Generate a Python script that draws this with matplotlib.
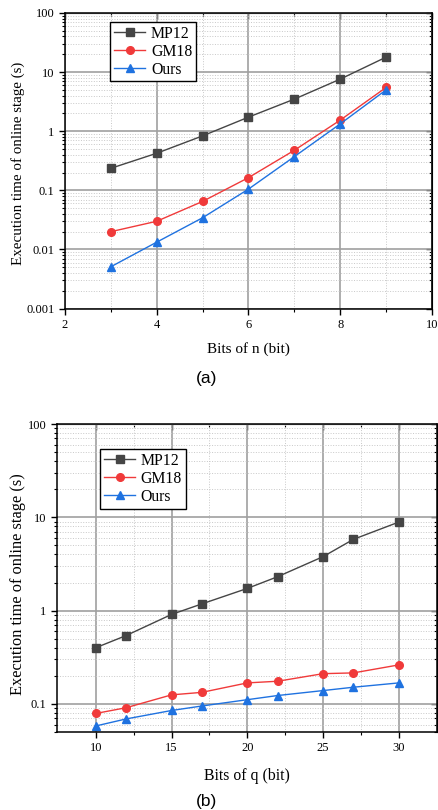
import matplotlib
matplotlib.use("Agg")
import matplotlib.pyplot as plt
from matplotlib.ticker import LogLocator, FixedLocator, NullFormatter, FuncFormatter

plt.rcParams["font.family"] = ["Liberation Serif", "DejaVu Serif"]

# ---- data: panel (a) ----
bits_n = [3, 4, 5, 6, 7, 8, 9]
mp12_a = [0.236, 0.424, 0.834, 1.73, 3.49, 7.6, 17.9]
gm18_a = [0.020, 0.030, 0.065, 0.164, 0.476, 1.54, 5.5]
ours_a = [0.0051, 0.0133, 0.0344, 0.105, 0.372, 1.33, 5.0]

# ---- data: panel (b) ----
bits_q = [10, 12, 15, 17, 20, 22, 25, 27, 30]
mp12_b = [0.40, 0.54, 0.91, 1.18, 1.73, 2.31, 3.79, 5.81, 8.9]
gm18_b = [0.079, 0.091, 0.125, 0.133, 0.168, 0.175, 0.211, 0.215, 0.262]
ours_b = [0.058, 0.069, 0.085, 0.095, 0.111, 0.123, 0.139, 0.151, 0.168]

labels = ["MP12", "GM18", "Ours"]
colors = ["#454545", "#f03a3a", "#1f72e0"]
markers = ["s", "o", "^"]


def fmt_log(v, pos):
    return f"{v:g}"


def style_axes(ax, xmajor, xminor, ylim):
    ax.set_yscale("log")
    ax.set_ylim(*ylim)
    ax.xaxis.set_major_locator(FixedLocator(xmajor))
    ax.xaxis.set_minor_locator(FixedLocator(xminor))
    ax.yaxis.set_major_locator(LogLocator(base=10))
    ax.yaxis.set_minor_locator(LogLocator(base=10, subs=range(2, 10)))
    ax.yaxis.set_major_formatter(FuncFormatter(fmt_log))
    ax.yaxis.set_minor_formatter(NullFormatter())
    ax.grid(which="major", color="#a0a0a0", linewidth=1.2, linestyle="-")
    ax.grid(which="minor", color="#c8c8c8", linewidth=0.7, linestyle=":")
    ax.set_axisbelow(True)
    for s in ax.spines.values():
        s.set_linewidth(1.1)
        s.set_color("black")
    ax.tick_params(which="major", direction="out", length=4, width=1, labelsize=9)
    ax.tick_params(which="minor", direction="out", length=2, width=0.8)
    # mirrored ticks pointing inward on top/right
    top = ax.secondary_xaxis("top")
    top.xaxis.set_major_locator(FixedLocator(xmajor))
    top.xaxis.set_minor_locator(FixedLocator(xminor))
    top.tick_params(which="major", direction="in", length=4, width=1, labeltop=False)
    top.tick_params(which="minor", direction="in", length=2, width=0.8)
    right = ax.secondary_yaxis("right")
    right.yaxis.set_major_locator(LogLocator(base=10))
    right.yaxis.set_minor_locator(LogLocator(base=10, subs=range(2, 10)))
    right.tick_params(which="major", direction="in", length=4, width=1, labelright=False)
    right.tick_params(which="minor", direction="in", length=2, width=0.8, labelright=False)
    right.yaxis.set_minor_formatter(NullFormatter())


def add_legend(ax, anchor):
    leg = ax.legend(loc="upper left", bbox_to_anchor=anchor, fontsize=11.3,
                    frameon=True, fancybox=False, edgecolor="black", framealpha=1,
                    handlelength=2.0, borderpad=0.25, labelspacing=0.12,
                    handletextpad=0.35, borderaxespad=0)
    leg.get_frame().set_linewidth(1)
    return leg


fig = plt.figure(figsize=(4.39, 8.10), dpi=100)

# panel (a)
ax1 = fig.add_axes([0.148, 0.619, 0.836, 0.365])
for y, lab, c, m in zip([mp12_a, gm18_a, ours_a], labels, colors, markers):
    ax1.plot(bits_n, y, color=c, marker=m, markersize=5.5, linewidth=1, label=lab)
ax1.set_xlim(2, 10)
style_axes(ax1, [2, 4, 6, 8, 10], [3, 5, 7, 9], (0.001, 100))
ax1.set_xlabel("Bits of n (bit)", fontsize=11, labelpad=8)
ax1.set_ylabel("Execution time of online stage (s)", fontsize=10.8)
ax1.yaxis.set_label_coords(-0.109, 0.49)
add_legend(ax1, (0.123, 0.970))
fig.text(0.47, 0.533, "(a)", family="Liberation Sans", fontsize=12.5, ha="center", va="center")

# panel (b)
ax2 = fig.add_axes([0.130, 0.0963, 0.865, 0.3802])
for y, lab, c, m in zip([mp12_b, gm18_b, ours_b], labels, colors, markers):
    ax2.plot(bits_q, y, color=c, marker=m, markersize=5.5, linewidth=1, label=lab)
ax2.set_xlim(7.45, 32.5)
style_axes(ax2, [10, 15, 20, 25, 30], [12.5, 17.5, 22.5, 27.5], (0.05, 100))
ax2.set_xlabel("Bits of q (bit)", fontsize=11.3, labelpad=10)
ax2.set_ylabel("Execution time of online stage (s)", fontsize=11.8)
ax2.yaxis.set_label_coords(-0.082, 0.48)
add_legend(ax2, (0.113, 0.919))
fig.text(0.47, 0.01, "(b)", family="Liberation Sans", fontsize=12.5, ha="center", va="center")

fig.savefig("out.png", dpi=100)
